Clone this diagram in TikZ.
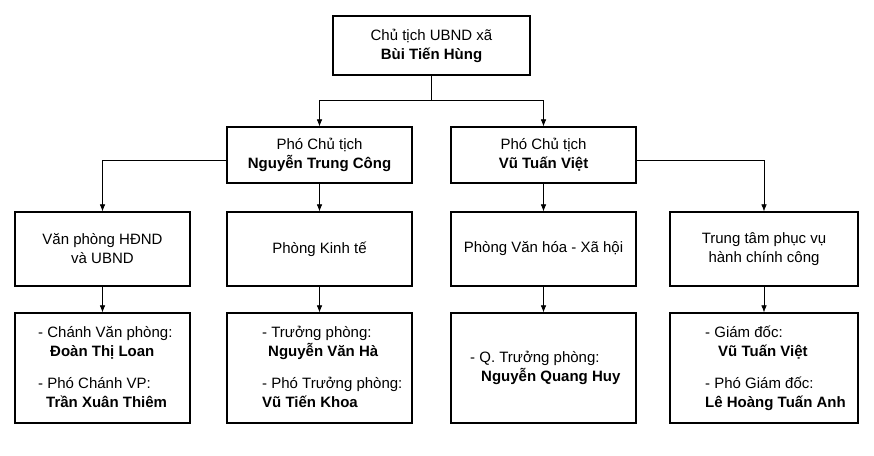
\documentclass[tikz,border=0pt]{standalone}
\usepackage{fontspec}
\setmainfont{Liberation Sans}
\usetikzlibrary{arrows.meta}
\begin{document}
\begin{tikzpicture}[x=1pt,y=-1pt,
  box/.style={draw,line width=1.3pt,align=center,inner sep=0pt,font=\fontsize{15}{19}\selectfont},
  info/.style={align=left,anchor=north west,inner sep=0pt,font=\fontsize{15}{19}\selectfont},
  arr/.style={-{Latex[length=7pt,width=5.5pt]},line width=0.6pt},
  ln/.style={line width=0.6pt}]
\useasboundingbox (0,0) rectangle (874,455);
\node[box,minimum width=197pt,minimum height=59pt] (top) at (431.5,45.5) {Chủ tịch UBND xã\\\textbf{Bùi Tiến Hùng}};
\node[box,minimum width=185pt,minimum height=56pt] (pa) at (319.5,155) {Phó Chủ tịch\\\textbf{Nguyễn Trung Công}};
\node[box,minimum width=185pt,minimum height=56pt] (pb) at (543.5,155) {Phó Chủ tịch\\\textbf{Vũ Tuấn Việt}};
\node[box,minimum width=175pt,minimum height=74pt] (a) at (102.5,249) {Văn phòng HĐND\\và UBND};
\node[box,minimum width=185pt,minimum height=74pt] (b) at (319.5,249) {Phòng Kinh tế};
\node[box,minimum width=185pt,minimum height=74pt] (c) at (543.5,249) {Phòng Văn hóa - Xã hội};
\node[box,minimum width=188pt,minimum height=74pt] (d) at (764,249) {Trung tâm phục vụ\\hành chính công};
\node[box,minimum width=175pt,minimum height=110pt] (a4) at (102.5,368) {};
\node[box,minimum width=185pt,minimum height=110pt] (b4) at (319.5,368) {};
\node[box,minimum width=185pt,minimum height=110pt] (c4) at (543.5,368) {};
\node[box,minimum width=188pt,minimum height=110pt] (d4) at (764,368) {};
\node[info] (ta) at (38,326) {- Chánh Văn phòng:\\\hspace{12pt}\textbf{Đoàn Thị Loan}\\[13pt]- Phó Chánh VP:\\\hspace{8pt}\textbf{Trần Xuân Thiêm}};
\node[info] (tb) at (262,326) {- Trưởng phòng:\\\hspace{6pt}\textbf{Nguyễn Văn Hà}\\[13pt]- Phó Trưởng phòng:\\\hspace{0pt}\textbf{Vũ Tiến Khoa}};
\node[info] (tc) at (470,351) {- Q. Trưởng phòng:\\\hspace{11pt}\textbf{Nguyễn Quang Huy}};
\node[info] (td) at (705,326) {- Giám đốc:\\\hspace{13pt}\textbf{Vũ Tuấn Việt}\\[13pt]- Phó Giám đốc:\\\hspace{0pt}\textbf{Lê Hoàng Tuấn Anh}};
\coordinate (j) at (431.5,100);
\draw[ln] (top.south) -- (j);
\draw[arr] (j) -| (pa.north);
\draw[arr] (j) -| (pb.north);
\draw[arr] (pa.south) -- (b.north);
\draw[arr] (pb.south) -- (c.north);
\draw[arr] (pa.west |- 0,160) -| (a.north);
\draw[arr] (pb.east |- 0,160) -| (d.north);
\draw[arr] (a.south) -- (a4.north);
\draw[arr] (b.south) -- (b4.north);
\draw[arr] (c.south) -- (c4.north);
\draw[arr] (d.south) -- (d4.north);
\end{tikzpicture}
\end{document}
